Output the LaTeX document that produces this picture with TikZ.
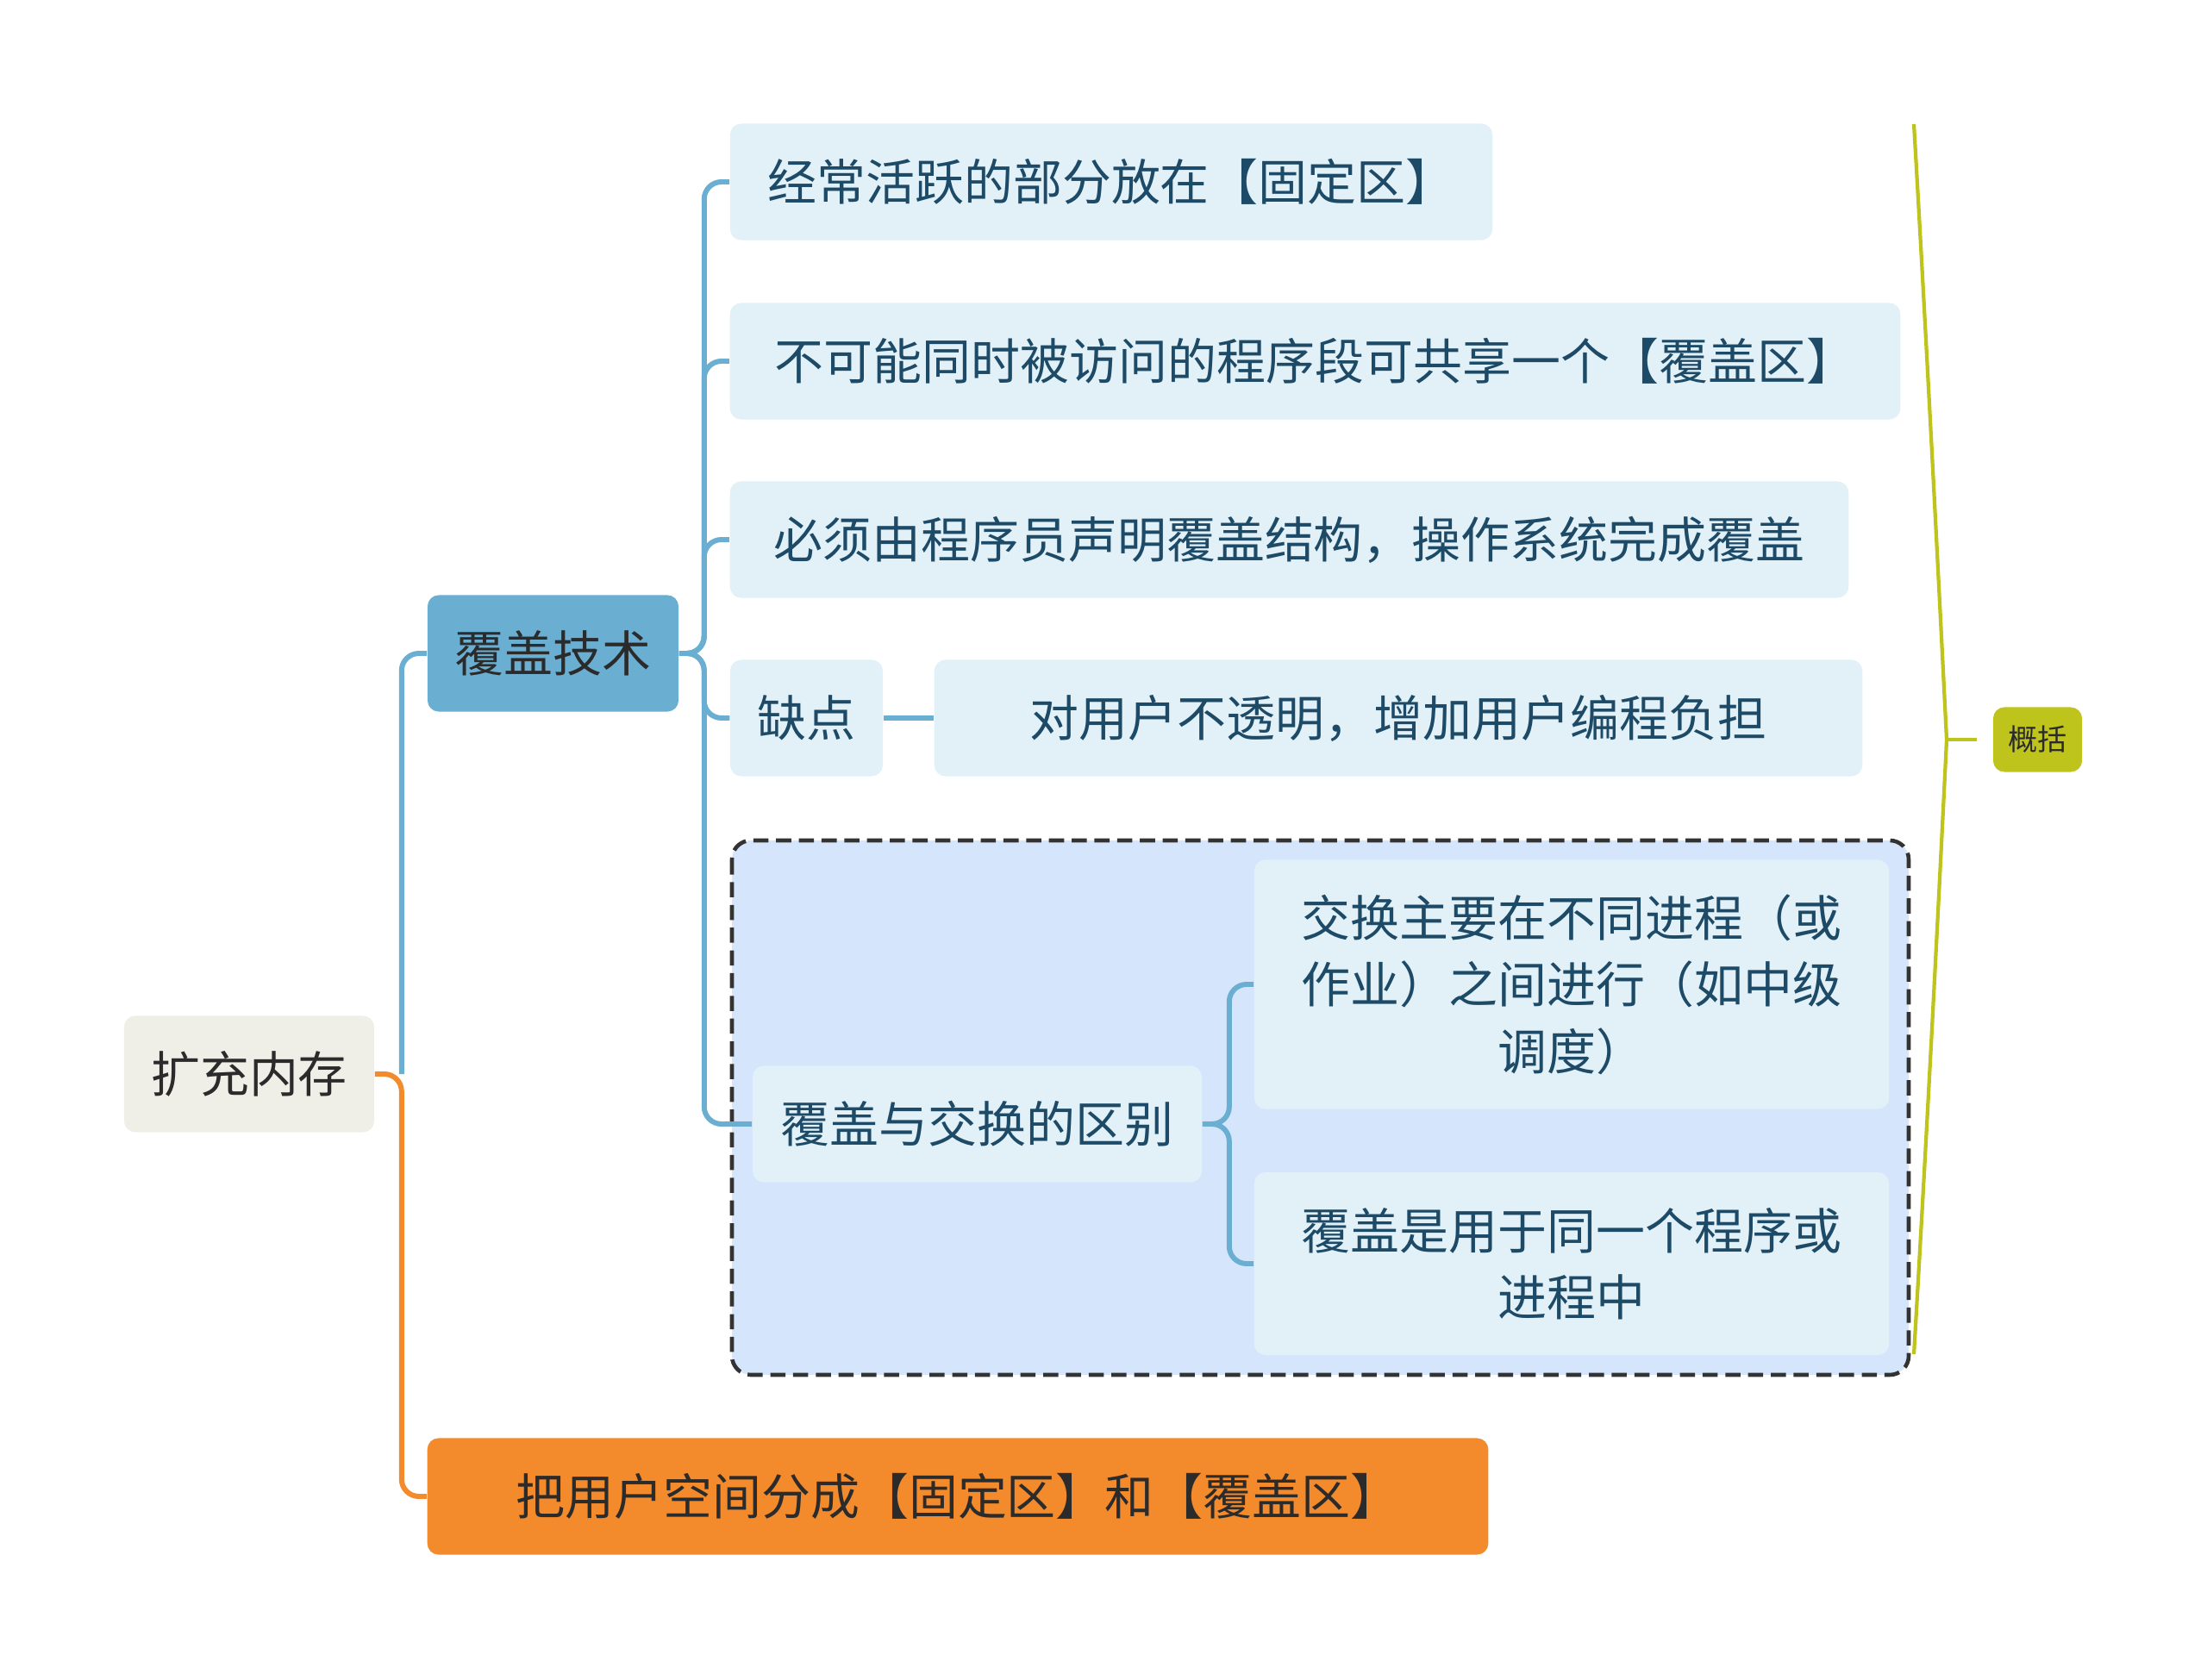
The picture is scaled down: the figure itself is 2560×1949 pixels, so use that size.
\documentclass[tikz,border=0pt]{standalone}
\usepackage{fontspec}
\setmainfont{Noto Sans CJK SC}
\usetikzlibrary{positioning}
\definecolor{rootfill}{HTML}{EFEFE8}
\definecolor{techfill}{HTML}{6AAFD1}
\definecolor{leaffill}{HTML}{E2F0F8}
\definecolor{leaftext}{HTML}{1D4A66}
\definecolor{groupfill}{HTML}{D5E5FC}
\definecolor{groupline}{HTML}{333333}
\definecolor{splitfill}{HTML}{F38A2C}
\definecolor{sumfill}{HTML}{BEC41C}
\definecolor{darktext}{HTML}{2B2B2B}
\begin{document}
\begin{tikzpicture}[
        x=0.01cm, y=-0.01cm,
        every node/.style={font=\fontsize{16.2pt}{22pt}\selectfont, inner sep=0pt, rounded corners=0.13cm},
        rootbox/.style={fill=rootfill, text=darktext, minimum width=2.9cm, minimum height=1.35cm},
        techbox/.style={fill=techfill, text=darktext, minimum width=2.91cm, minimum height=1.35cm},
        leafbox/.style={fill=leaffill, text=leaftext, minimum height=1.35cm},
        splitbox/.style={fill=splitfill, text=darktext, minimum width=12.3cm, minimum height=1.35cm},
        sumbox/.style={fill=sumfill, text=darktext, minimum width=1.03cm, minimum height=0.75cm,
            font=\fontsize{9.7pt}{12pt}\selectfont},
        link/.style={draw=techfill, line width=1.7pt, rounded corners=0.2cm},
        splitlink/.style={link, draw=splitfill},
        sumline/.style={draw=sumfill, line width=1.2pt}
    ]
    \useasboundingbox (0,0) rectangle (2560,1949);
    % dashed group
    \draw[groupline, fill=groupfill, line width=1.3pt, dash pattern=on 5pt off 2.5pt, rounded corners=0.22cm]
        (849,975) rectangle (2214,1595);
    % nodes
    \node[rootbox] (root) at (289,1246) {扩充内存};
    \node[techbox] (tech) at (641.5,758) {覆盖技术};
    \node[splitbox] (split) at (1111,1736) {把用户空间分成【固定区】和【覆盖区】};
    \node[leafbox, minimum width=8.84cm] (fixed) at (1289,211) {经常活跃的部分放在【固定区】};
    \node[leafbox, minimum width=13.57cm] (share) at (1525.5,419) {不可能同时被访问的程序段可共享一个【覆盖区】};
    \node[leafbox, minimum width=12.97cm] (declare) at (1495.5,626) {必须由程序员声明覆盖结构，操作系统完成覆盖};
    \node[leafbox, minimum width=1.77cm] (flaw) at (935.5,833) {缺点};
    \node[leafbox, minimum width=10.76cm] (flawtext) at (1622,833) {对用户不透明，增加用户编程负担};
    \node[leafbox, minimum width=5.21cm] (diff) at (1133.5,1304) {覆盖与交换的区别};
    \node[leafbox, minimum width=7.36cm, minimum height=2.89cm, align=center] (swap) at (1823,1142)
        {交换主要在不同进程（或\\作业）之间进行（如中级\\调度）};
    \node[leafbox, minimum width=7.36cm, minimum height=2.12cm, align=center] (overlay) at (1823,1466)
        {覆盖是用于同一个程序或\\进程中};
    \node[sumbox] (summary) at (2363.5,858) {概括};
    % connectors
    \coordinate (rootfork) at ([xshift=0.31cm]root.east);
    \draw[link] (rootfork) |- (tech.west);
    \draw[splitlink] (root.east) -- (rootfork) |- (split.west);
    \foreach \leaf in {fixed, share, declare, flaw, diff}
        \draw[link] (tech.east) -- ++(29,0) |- (\leaf.west);
    \draw[link] (flaw.east) -- (flawtext.west);
    \foreach \leaf in {swap, overlay}
        \draw[link] (diff.east) -- ++(31,0) |- (\leaf.west);
    % summary brace
    \coordinate (brace) at (2258,858);
    \draw[sumline] (2220,144) .. controls (2236,420) and (2250,700) .. (brace)
        .. controls (2250,1020) and (2236,1300) .. (2220,1571);
    \draw[sumline] (brace) -- ([xshift=-0.18cm]summary.west);
\end{tikzpicture}
\end{document}
